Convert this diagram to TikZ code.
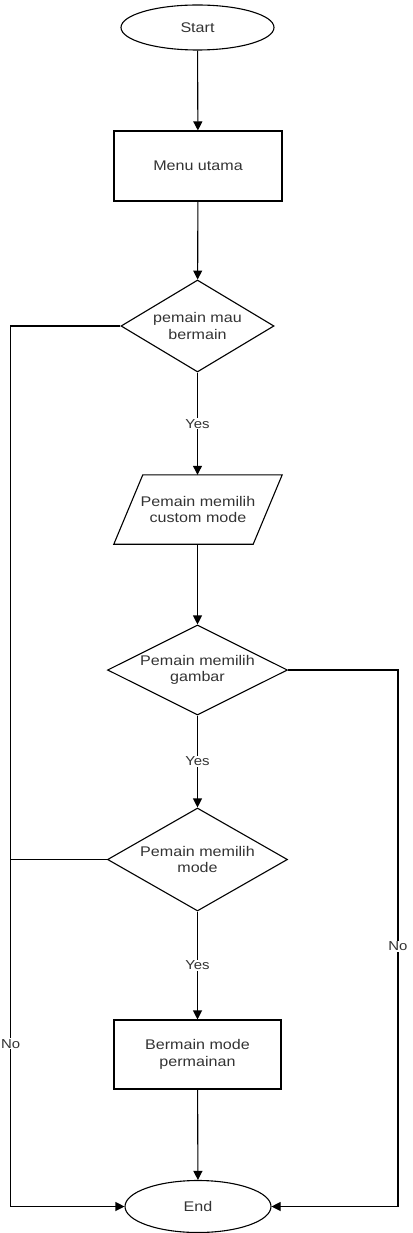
\documentclass[tikz,border=0pt]{standalone}
\usepackage{fontspec}
\setmainfont{Liberation Sans}[FakeStretch=1.15]
\usetikzlibrary{shapes.geometric,arrows.meta,calc}
\definecolor{txtc}{HTML}{333333}
\tikzset{
  base/.style={draw=black, line width=1.1pt, inner sep=0pt, text=txtc, font=\fontsize{14}{16.5}\selectfont, align=center},
  term/.style={base, ellipse},
  proc/.style={base, rectangle},
  dec/.style={base, diamond},
  txt/.style={inner sep=0pt, text=txtc, font=\fontsize{14}{16.5}\selectfont, align=center},
  conn/.style={draw=black, line width=1.1pt, -{Triangle[length=9pt,width=9pt]}},
  lbl/.style={fill=white, inner sep=1pt, text=txtc, font=\fontsize{13}{15}\selectfont}
}
\begin{document}
\begin{tikzpicture}[x=1pt,y=-1pt]
\useasboundingbox (0,0) rectangle (412,1233);
\node[term, minimum width=153pt, minimum height=45pt] (start) at (197.5,27.5) {Start};
\node[proc, minimum width=168pt, minimum height=70pt] (menu) at (198,166) {Menu utama};
\node[dec, minimum width=153pt, minimum height=92pt] (d1) at (197.5,326) {};
\node[txt] (d1t) at (197.5,326) {pemain mau\\bermain};
\node[minimum width=139pt, minimum height=69pt, inner sep=0pt] (io) at (198,509.5) {};
\draw[line width=1.1pt] ($(io.north west)+(14.5,0)$) -- ($(io.north east)+(14.5,0)$) -- ($(io.south east)+(-14.5,0)$) -- ($(io.south west)+(-14.5,0)$) -- cycle;
\node[txt] (iot) at (198,509.5) {Pemain memilih\\custom mode};
\node[dec, minimum width=180pt, minimum height=90pt] (d2) at (197.5,670) {};
\node[txt] (d2t) at (197.5,670) {Pemain memilih\\gambar};
\node[dec, minimum width=180pt, minimum height=103pt] (d3) at (197.5,859.5) {};
\node[txt] (d3t) at (197.5,859.5) {Pemain memilih\\mode};
\node[proc, minimum width=167pt, minimum height=69pt] (play) at (197.5,1054.5) {Bermain mode\\permainan};
\node[term, minimum width=146pt, minimum height=52pt] (end) at (198,1206.5) {End};

\coordinate (l1) at (10.7,326);
\coordinate (l2) at (10.7,1206.5);
\coordinate (l3) at (10.7,859.5);
\coordinate (r1) at (398,670);
\coordinate (r2) at (398,1206.5);

\draw[conn] (start) -- (menu);
\draw[conn] (menu) -- (d1);
\draw[conn] (d1) -- node[lbl, pos=0.5] {Yes} (d1 |- io.north);
\draw[conn] (io.south -| d2) -- (d2);
\draw[conn] (d2) -- node[lbl, pos=0.5] {Yes} (d3);
\draw[conn] (d3) -- node[lbl, pos=0.5] {Yes} (play);
\draw[conn] (play) -- (end);
\draw[conn] (d1.west) -- (l1) -- node[lbl, pos=0.815] {No} (l2) -- (end.west);
\draw[line width=1.1pt] (d3.west) -- (l3);
\draw[conn] (d2.east) -- (r1) -- node[lbl, pos=0.515] {No} (r2) -- (end.east);
\end{tikzpicture}
\end{document}
